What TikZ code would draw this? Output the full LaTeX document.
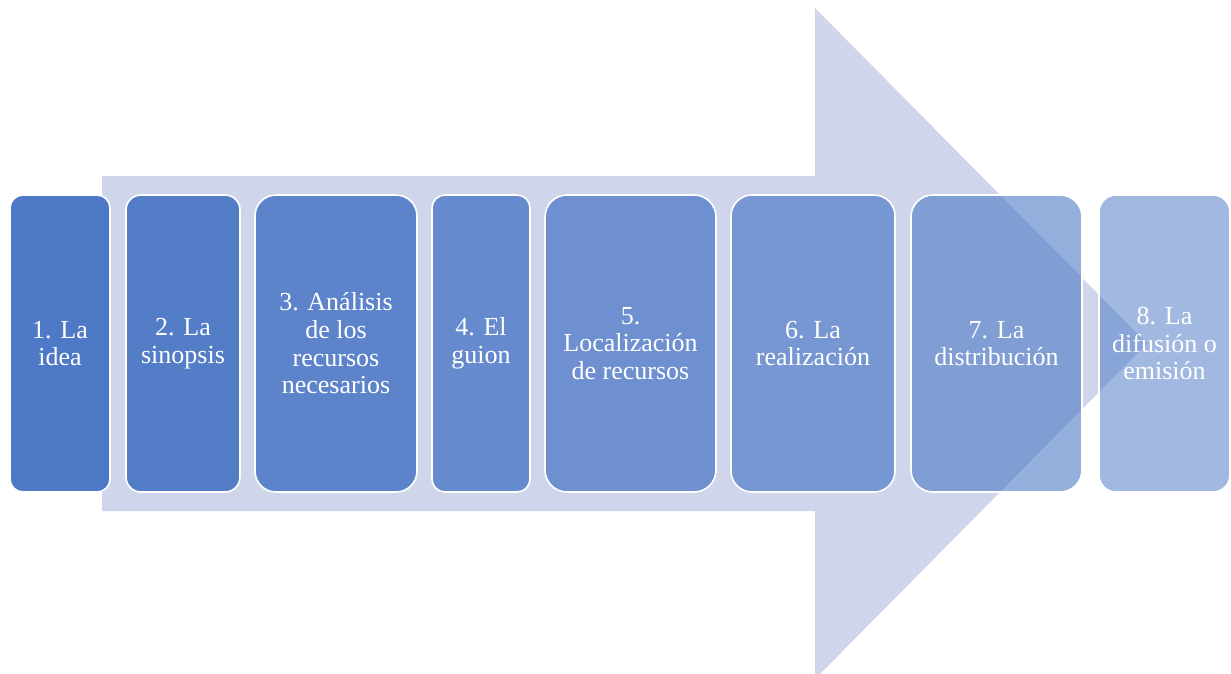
\documentclass[tikz,border=0pt]{standalone}
\usepackage{fontspec}
\setmainfont{Liberation Serif}
\definecolor{arrowc}{HTML}{CFD6EB}
\definecolor{accent}{HTML}{4472C4}
\tikzset{
  stepbox/.style={draw=white, line width=1.6pt, fill=accent, text=white,
    text opacity=1, draw opacity=1, align=center, inner sep=2pt,
    minimum height=297pt,
    font=\fontsize{26}{27.7}\selectfont},
}
\begin{document}
\begin{tikzpicture}[x=1pt,y=-1pt]
\clip (0,0) rectangle (1231,673);
\fill[white] (0,0) rectangle (1231,673);
\fill[arrowc] (102,176) -- (815,176) -- (815,8) -- (1147,343.5) -- (815,679) -- (815,511) -- (102,511) -- cycle;
\node[stepbox, fill opacity=0.947, minimum width=100pt, rounded corners=13pt] (b1) at (60,343.5) {1. La\\idea};
\node[stepbox, fill opacity=0.883, minimum width=114pt, rounded corners=15pt] (b2) at (183,343.5) {2. La\\sinopsis};
\node[stepbox, fill opacity=0.819, minimum width=162pt, rounded corners=21pt] (b3) at (336,343.5) {3. Análisis\\de los\\recursos\\necesarios};
\node[stepbox, fill opacity=0.755, minimum width=98pt, rounded corners=13pt] (b4) at (481,343.5) {4. El\\guion};
\node[stepbox, fill opacity=0.691, minimum width=171pt, rounded corners=22pt] (b5) at (630.5,343.5) {5.\\Localización\\de recursos};
\node[stepbox, fill opacity=0.627, minimum width=164pt, rounded corners=21pt] (b6) at (813,343.5) {6. La\\realización};
\node[stepbox, fill opacity=0.563, minimum width=171pt, rounded corners=22pt] (b7) at (996.5,343.5) {7. La\\distribución};
\node[stepbox, fill opacity=0.497, minimum width=131pt, rounded corners=17pt] (b8) at (1164.5,343.5) {8. La\\difusión o\\emisión};
\end{tikzpicture}
\end{document}
